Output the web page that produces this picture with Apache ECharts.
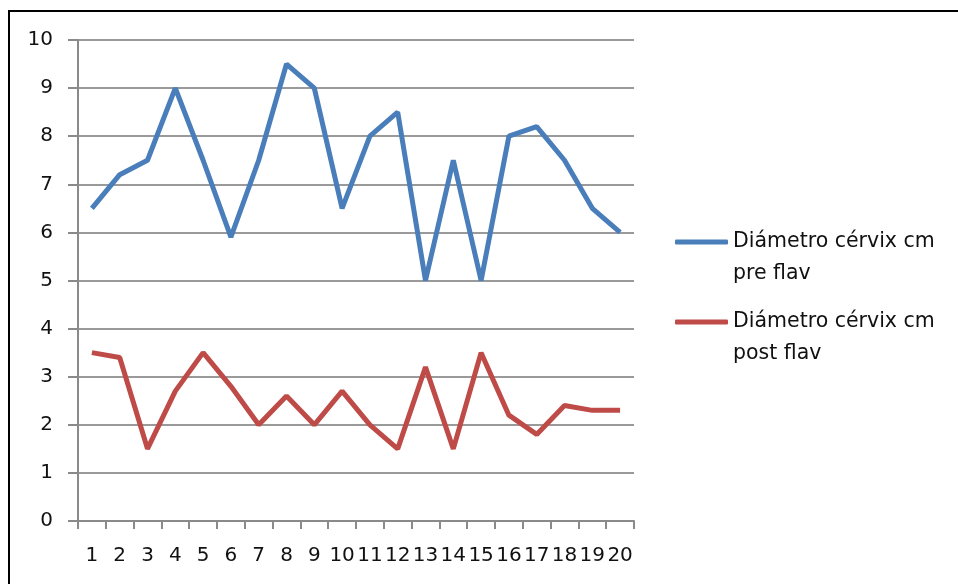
<!DOCTYPE html>
<html>
<head>
<meta charset="utf-8">
<script src="https://cdn.jsdelivr.net/npm/echarts@6/dist/echarts.min.js"></script>
<style>
html,body{margin:0;padding:0;background:#fff;}
#c{width:958px;height:584px;}
</style>
</head>
<body>
<div id="c"></div>
<script>
var categories = ['1','2','3','4','5','6','7','8','9','10','11','12','13','14','15','16','17','18','19','20'];
var preName = 'Diámetro cérvix cm\npre flav';
var postName = 'Diámetro cérvix cm\npost flav';
var preValues = [6.5, 7.2, 7.5, 9, 7.5, 5.9, 7.5, 9.5, 9, 6.5, 8, 8.5, 5, 7.5, 5, 8, 8.2, 7.5, 6.5, 6];
var postValues = [3.5, 3.4, 1.5, 2.7, 3.5, 2.8, 2.0, 2.6, 2.0, 2.7, 2.0, 1.5, 3.2, 1.5, 3.5, 2.2, 1.8, 2.4, 2.3, 2.3];
var yTicks = [0, 10, 1];

var FONT = 'DejaVu Sans';
var chart = echarts.init(document.getElementById('c'));
chart.setOption({
  animation: false,
  backgroundColor: '#ffffff',
  textStyle: { fontFamily: FONT },
  graphic: [{
    type: 'rect',
    shape: { x: 9, y: 11, width: 1000, height: 1000 },
    style: { fill: 'none', stroke: '#000', lineWidth: 2 },
    silent: true
  }],
  grid: { left: 78, top: 40, right: 324, bottom: 63, containLabel: false },
  legend: {
    orient: 'vertical',
    left: 675,
    top: 194,
    padding: 0,
    itemGap: -16,
    itemWidth: 53,
    itemHeight: 5,
    icon: 'roundRect',
    formatter: function (name) { return '\n' + name; },
    textStyle: { fontFamily: FONT, fontSize: 20.5, color: '#111', lineHeight: 32 },
    data: [preName, postName]
  },
  xAxis: {
    type: 'category',
    data: categories,
    boundaryGap: true,
    axisLine: { lineStyle: { color: '#8a8a8a', width: 2 } },
    axisTick: { show: true, length: 8, lineStyle: { color: '#8a8a8a', width: 2 } },
    axisLabel: { interval: 0, margin: 25, fontFamily: FONT, fontSize: 20, color: '#111' },
    splitLine: { show: false }
  },
  yAxis: {
    type: 'value',
    min: yTicks[0],
    max: yTicks[1],
    interval: yTicks[2],
    axisLine: { show: true, lineStyle: { color: '#8a8a8a', width: 2 } },
    axisTick: { show: true, length: 10, lineStyle: { color: '#8a8a8a', width: 2 } },
    axisLabel: { margin: 25, fontFamily: FONT, fontSize: 20, color: '#111' },
    splitLine: { show: true, lineStyle: { color: '#9a9a9a', width: 2 } }
  },
  series: [{
    name: preName,
    type: 'line',
    data: preValues,
    symbol: 'none',
    lineStyle: { color: '#4a7ebb', width: 5 },
    itemStyle: { color: '#4a7ebb' }
  }, {
    name: postName,
    type: 'line',
    data: postValues,
    symbol: 'none',
    lineStyle: { color: '#be4b48', width: 5 },
    itemStyle: { color: '#be4b48' }
  }]
});
</script>
</body>
</html>
